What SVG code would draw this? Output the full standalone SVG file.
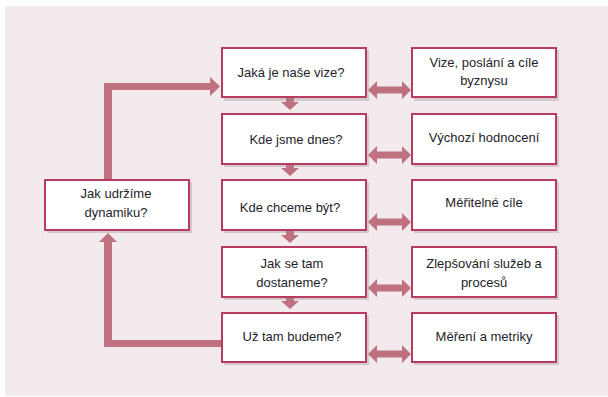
<svg xmlns="http://www.w3.org/2000/svg" width="608" height="397" viewBox="0 0 608 397">
<defs>
<style>
.box{fill:#ffffff;stroke:#b83c62;stroke-width:2}
.sh{fill:#9a8a8e;opacity:0.35}
.t{font-family:"Liberation Sans",Arial,sans-serif;font-size:13px;fill:#1e1e2a;text-anchor:middle}
.ar{fill:#c0717f}
</style>
</defs>
<rect x="0" y="0" width="608" height="397" fill="#ffffff"/>
<rect x="5" y="6" width="603" height="390" fill="#f2eaec"/>

<g id="connectors">
  <!-- loop arrow -->
  <path class="ar" d="M104,347 L104,242 L99,242 L108,233 L117,242 L112,242 L112,340 L221,340 L221,347 Z"/>
  <path class="ar" d="M104,179 L104,83 L210,83 L210,77 L220,86.5 L210,96 L210,90 L112,90 L112,179 Z"/>
  <!-- down arrows -->
  <path class="ar" d="M286,98 L294,98 L294,102 L299,102 L290,110 L281,102 L286,102 Z"/>
  <path class="ar" d="M286,164 L294,164 L294,168 L299,168 L290,176 L281,168 L286,168 Z"/>
  <path class="ar" d="M286,231 L294,231 L294,235 L299,235 L290,243 L281,235 L286,235 Z"/>
  <path class="ar" d="M286,297 L294,297 L294,301 L299,301 L290,309 L281,301 L286,301 Z"/>
  <!-- double arrows -->
  <path class="ar" d="M368,90 L377,81 L377,86.5 L402,86.5 L402,81 L411,90 L402,99 L402,93.5 L377,93.5 L377,99 Z"/>
  <path class="ar" d="M368,155 L377,146 L377,151.5 L402,151.5 L402,146 L411,155 L402,164 L402,158.5 L377,158.5 L377,164 Z"/>
  <path class="ar" d="M368,222 L377,213 L377,218.5 L402,218.5 L402,213 L411,222 L402,231 L402,225.5 L377,225.5 L377,231 Z"/>
  <path class="ar" d="M368,288 L377,279 L377,284.5 L402,284.5 L402,279 L411,288 L402,297 L402,291.5 L377,291.5 L377,297 Z"/>
  <path class="ar" d="M368,354 L377,345 L377,350.5 L402,350.5 L402,345 L411,354 L402,363 L402,357.5 L377,357.5 L377,363 Z"/>
</g>

<g id="n-dynamika">
  <rect class="sh" x="47" y="182" width="145" height="51"/>
  <rect class="box" x="45" y="180" width="144" height="50"/>
  <text class="t" x="116" y="198">Jak udržíme</text>
  <text class="t" x="116" y="217">dynamiku?</text>
</g>

<g id="n-vize">
  <rect class="sh" x="224" y="50" width="145" height="51"/>
  <rect class="box" x="222" y="48" width="144" height="49"/>
  <text class="t" x="291" y="77">Jaká je naše vize?</text>
</g>
<g id="n-dnes">
  <rect class="sh" x="224" y="116" width="145" height="51"/>
  <rect class="box" x="222" y="114" width="144" height="50"/>
  <text class="t" x="296" y="144">Kde jsme dnes?</text>
</g>
<g id="n-byt">
  <rect class="sh" x="224" y="182" width="145" height="51"/>
  <rect class="box" x="222" y="180" width="144" height="50"/>
  <text class="t" x="290" y="212">Kde chceme být?</text>
</g>
<g id="n-dostaneme">
  <rect class="sh" x="224" y="249" width="145" height="51"/>
  <rect class="box" x="222" y="247" width="144" height="50"/>
  <text class="t" x="292" y="268">Jak se tam</text>
  <text class="t" x="292" y="287">dostaneme?</text>
</g>
<g id="n-budeme">
  <rect class="sh" x="224" y="315" width="145" height="50"/>
  <rect class="box" x="222" y="313" width="144" height="49"/>
  <text class="t" x="292" y="341">Už tam budeme?</text>
</g>

<g id="n-cile-byznysu">
  <rect class="sh" x="414" y="50" width="145" height="51"/>
  <rect class="box" x="412" y="48" width="144" height="49"/>
  <text class="t" x="484" y="67">Vize, poslání a cíle</text>
  <text class="t" x="484" y="85">byznysu</text>
</g>
<g id="n-hodnoceni">
  <rect class="sh" x="414" y="116" width="145" height="51"/>
  <rect class="box" x="412" y="114" width="144" height="50"/>
  <text class="t" x="484" y="142">Výchozí hodnocení</text>
</g>
<g id="n-meritelne">
  <rect class="sh" x="414" y="182" width="145" height="51"/>
  <rect class="box" x="412" y="180" width="144" height="50"/>
  <text class="t" x="484" y="207">Měřitelné cíle</text>
</g>
<g id="n-zlepsovani">
  <rect class="sh" x="414" y="249" width="145" height="51"/>
  <rect class="box" x="412" y="247" width="144" height="50"/>
  <text class="t" x="484" y="268">Zlepšování služeb a</text>
  <text class="t" x="484" y="287">procesů</text>
</g>
<g id="n-mereni">
  <rect class="sh" x="414" y="315" width="145" height="50"/>
  <rect class="box" x="412" y="313" width="144" height="49"/>
  <text class="t" x="484" y="341">Měření a metriky</text>
</g>
</svg>
